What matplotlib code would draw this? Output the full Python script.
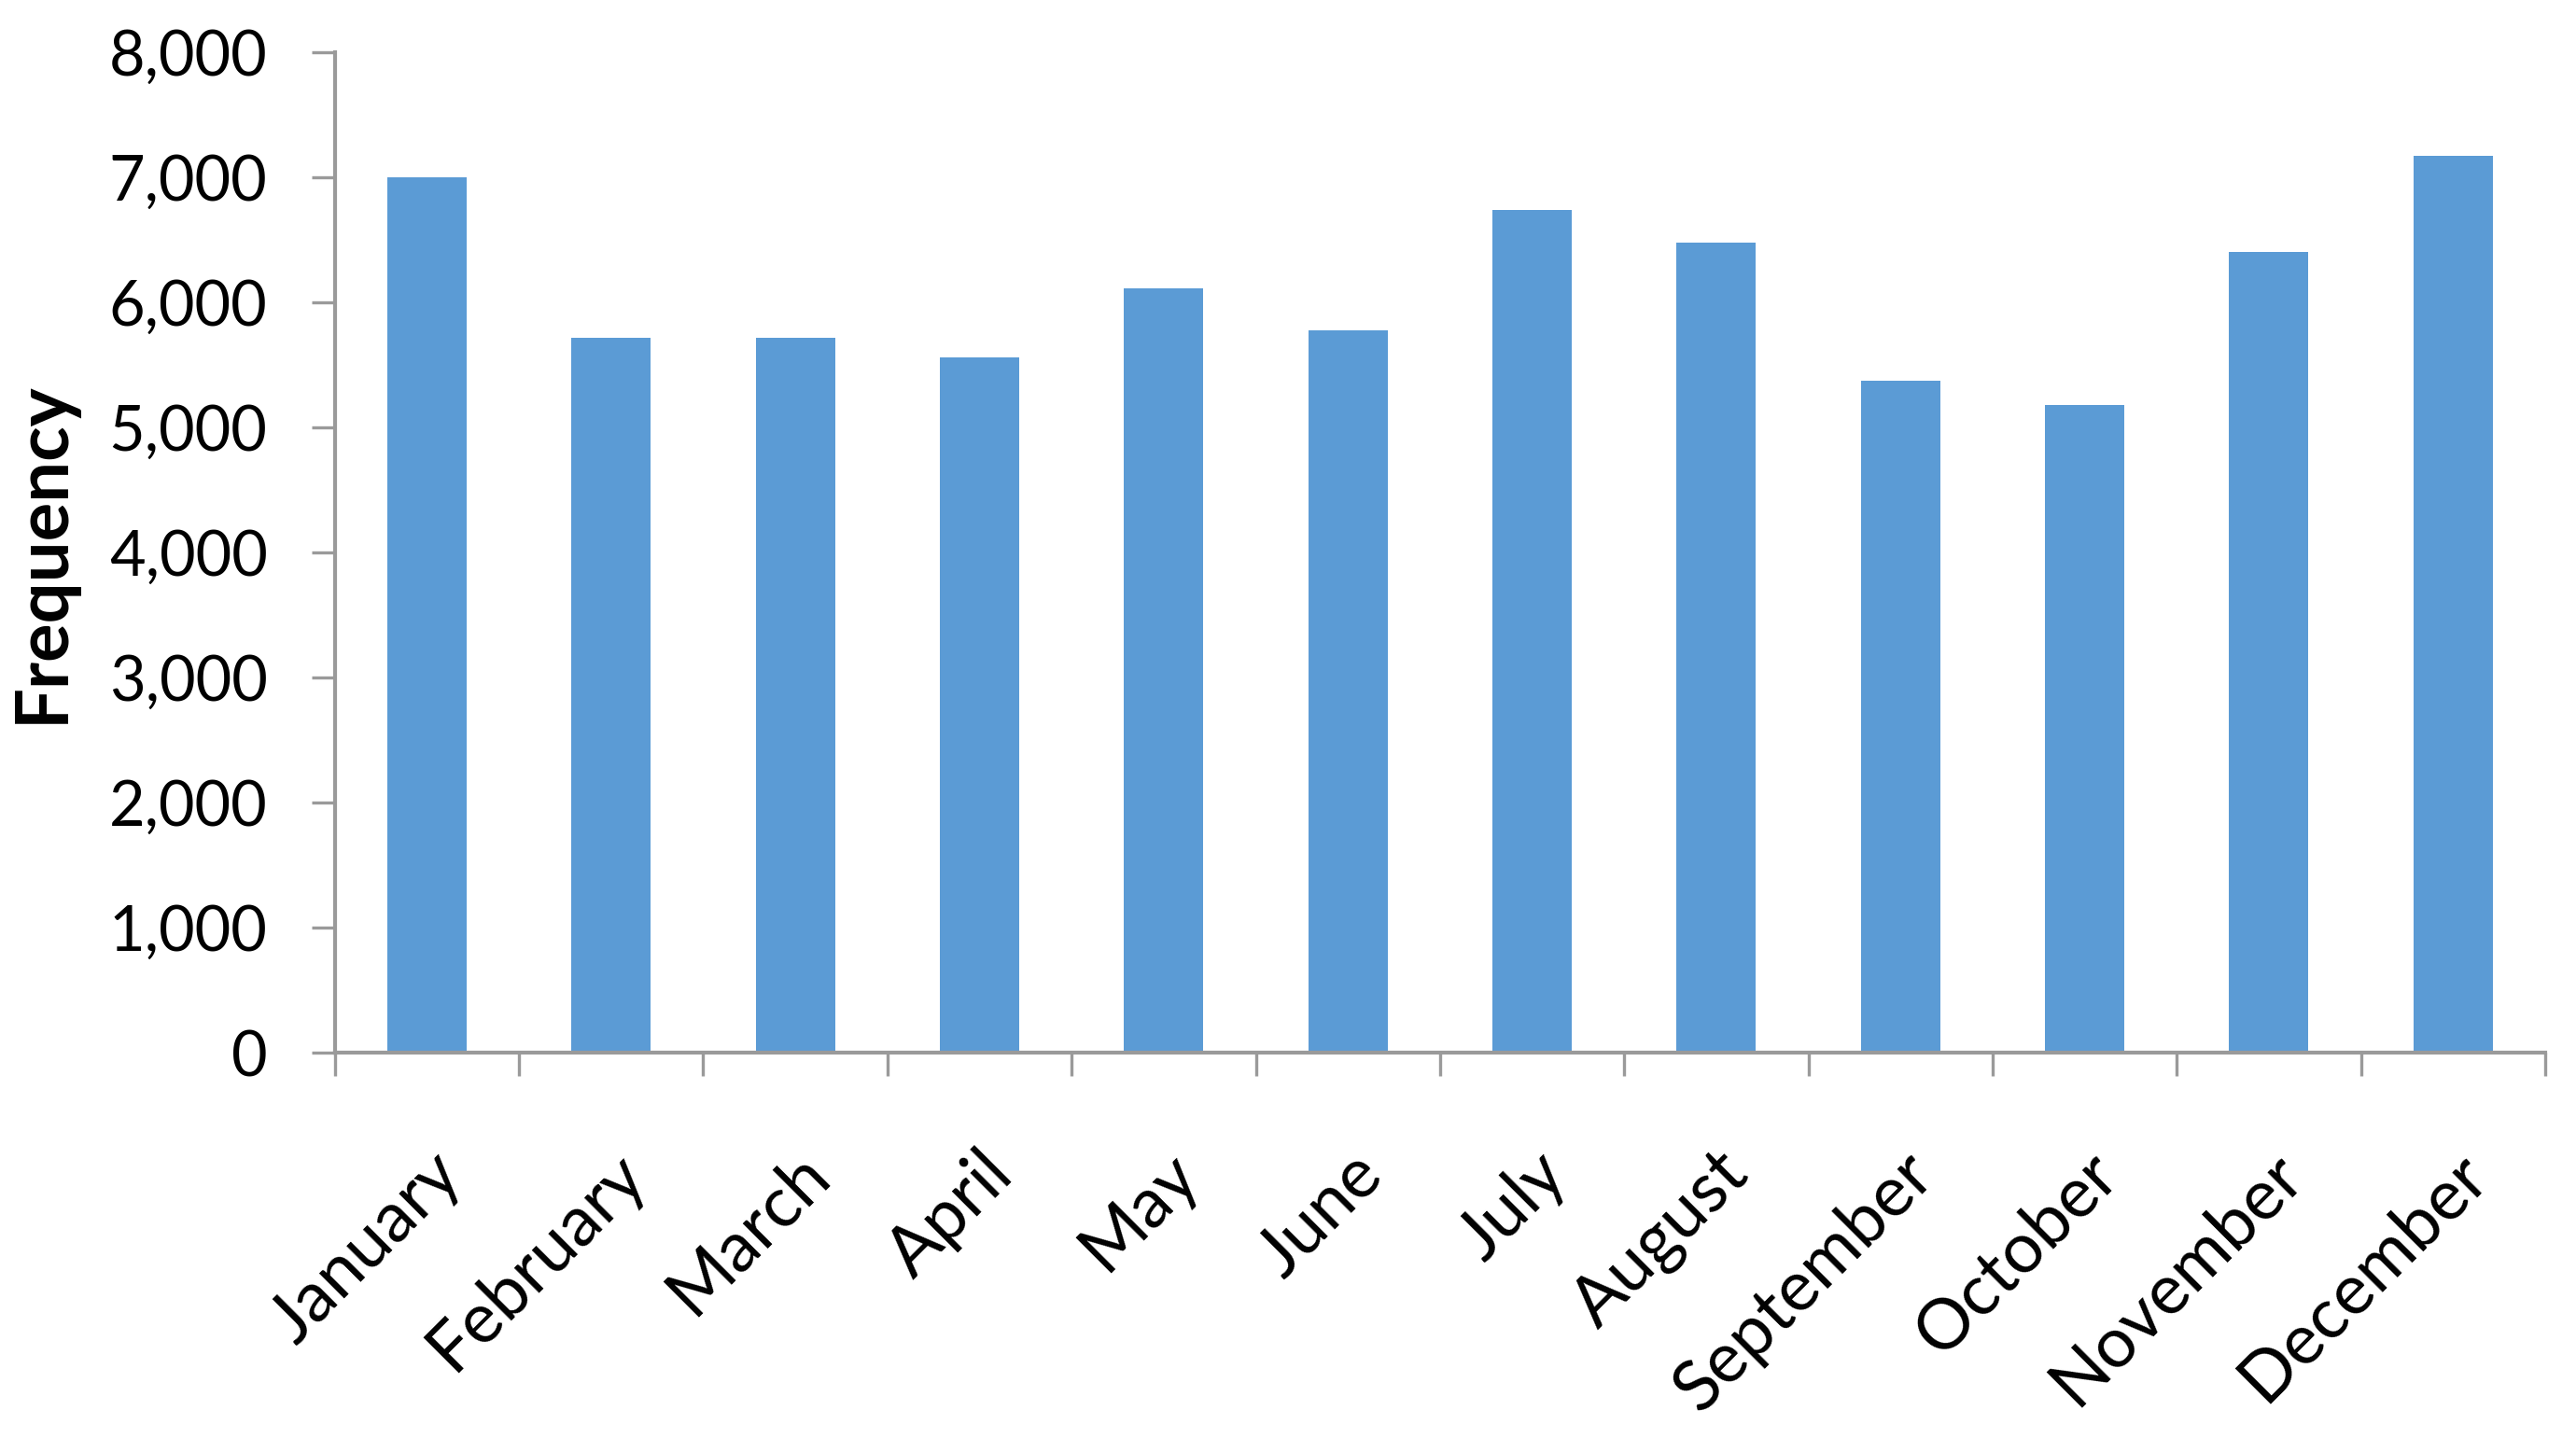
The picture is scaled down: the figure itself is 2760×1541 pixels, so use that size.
# bar chart of monthly frequency, excel style

import numpy as np
import matplotlib.pyplot as plt
from matplotlib.ticker import FuncFormatter

months = ['January', 'February', 'March', 'April', 'May', 'June',
          'July', 'August', 'September', 'October', 'November', 'December']
freq = [7000, 5720, 5720, 5560, 6110, 5780, 6740, 6480, 5370, 5180, 6400, 7170]
yticks = [0, 1000, 2000, 3000, 4000, 5000, 6000, 7000, 8000]

plt.rcParams['font.family'] = ['Lato', 'DejaVu Sans']

fig = plt.figure(figsize=(13.8, 7.705), dpi=200)
ax = fig.add_axes([0.130, 0.268, 0.858, 0.6956])

x = np.arange(len(months))
ax.bar(x, freq, width=0.43, color='#5B9BD5', zorder=2)

ax.set_xlim(-0.5, len(months) - 0.5)
ax.set_ylim(0, 8000)
ax.set_yticks(yticks)
ax.yaxis.set_major_formatter(FuncFormatter(lambda v, p: f'{int(v):,}'))

# ticks sit between categories, labels at the centres
ax.set_xticks(np.arange(-0.5, len(months)), minor=False)
ax.set_xticklabels([])
ax.set_xticks(x, minor=True)
ax.set_xticklabels(months, minor=True, rotation=45, ha='right',
                   rotation_mode='anchor', fontsize=27)
ax.tick_params(axis='x', which='minor', length=0, pad=34)
ax.tick_params(axis='x', which='major', length=9, width=1.2, color='#9a9a9a')
ax.tick_params(axis='y', length=9, width=1.2, color='#9a9a9a', labelsize=24, pad=17)

for s in ['top', 'right']:
    ax.spines[s].set_visible(False)
for s in ['left', 'bottom']:
    ax.spines[s].set_color('#9a9a9a')
    ax.spines[s].set_linewidth(1.5)

ax.set_ylabel('Frequency', fontsize=28, fontweight='bold')
ax.yaxis.set_label_coords(-0.117, 0.5)

fig.savefig('out.png', dpi=200, facecolor='white')
